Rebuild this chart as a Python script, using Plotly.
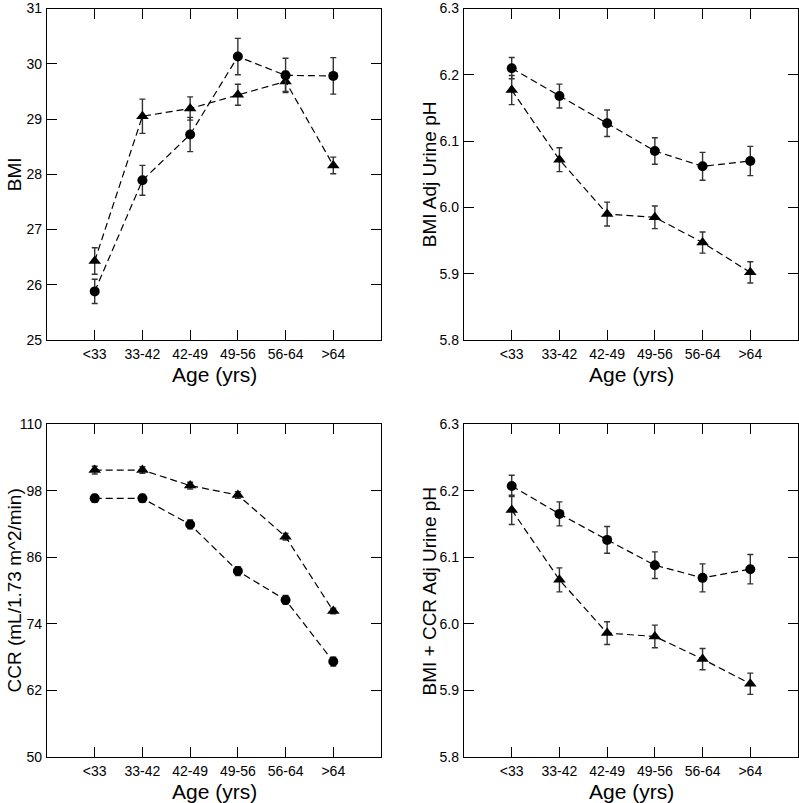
import plotly.graph_objects as go

# ---------------- data ----------------
age_groups = ["<33", "33-42", "42-49", "49-56", "56-64", ">64"]

bmi_circle = [25.88, 27.89, 28.72, 30.13, 29.79, 29.78]
bmi_circle_err = [0.22, 0.27, 0.31, 0.33, 0.31, 0.33]
bmi_triangle = [26.43, 29.05, 29.19, 29.44, 29.68, 28.16]
bmi_triangle_err = [0.24, 0.31, 0.21, 0.19, 0.18, 0.15]

ph_bmi_circle = [6.210, 6.168, 6.127, 6.085, 6.062, 6.070]
ph_bmi_circle_err = [0.016, 0.018, 0.020, 0.020, 0.021, 0.022]
ph_bmi_triangle = [6.177, 6.072, 5.990, 5.985, 5.947, 5.902]
ph_bmi_triangle_err = [0.022, 0.018, 0.018, 0.017, 0.016, 0.016]

ccr_circle = [96.6, 96.6, 91.9, 83.5, 78.3, 67.2]
ccr_circle_err = [0.7, 0.7, 0.8, 0.8, 0.8, 0.8]
ccr_triangle = [101.7, 101.7, 98.9, 97.2, 89.7, 76.3]
ccr_triangle_err = [0.7, 0.6, 0.6, 0.6, 0.6, 0.5]

ph_both_circle = [6.207, 6.165, 6.126, 6.088, 6.069, 6.082]
ph_both_circle_err = [0.016, 0.018, 0.020, 0.020, 0.021, 0.022]
ph_both_triangle = [6.171, 6.066, 5.986, 5.981, 5.947, 5.910]
ph_both_triangle_err = [0.022, 0.018, 0.017, 0.017, 0.016, 0.016]

panels = [
    dict(c=bmi_circle, ce=bmi_circle_err, t=bmi_triangle, te=bmi_triangle_err,
         yrange=[25, 31], ytick=[25, 26, 27, 28, 29, 30, 31], ytext=None,
         title="BMI"),
    dict(c=ph_bmi_circle, ce=ph_bmi_circle_err, t=ph_bmi_triangle, te=ph_bmi_triangle_err,
         yrange=[5.8, 6.3], ytick=[5.8, 5.9, 6.0, 6.1, 6.2, 6.3],
         ytext=["5.8", "5.9", "6.0", "6.1", "6.2", "6.3"],
         title="BMI Adj Urine pH"),
    dict(c=ccr_circle, ce=ccr_circle_err, t=ccr_triangle, te=ccr_triangle_err,
         yrange=[50, 110], ytick=[50, 62, 74, 86, 98, 110], ytext=None,
         title="CCR (mL/1.73 m^2/min)"),
    dict(c=ph_both_circle, ce=ph_both_circle_err, t=ph_both_triangle, te=ph_both_triangle_err,
         yrange=[5.8, 6.3], ytick=[5.8, 5.9, 6.0, 6.1, 6.2, 6.3],
         ytext=["5.8", "5.9", "6.0", "6.1", "6.2", "6.3"],
         title="BMI + CCR Adj Urine pH"),
]

# ---------------- layout geometry (pixels) ----------------
W, H = 799, 803
xdoms_px = [(47, 381), (464, 798)]
ydoms_px = [(8.5, 340), (424, 757)]  # from top
ytitle_x_px = [14, 429]
FONT = "Arial, Liberation Sans, sans-serif"

fig = go.Figure()
idx = list(range(len(age_groups)))
annotations = []

for i, p in enumerate(panels):
    col, row = i % 2, i // 2
    ax = "" if i == 0 else str(i + 1)
    xref, yref = "x" + ax, "y" + ax
    x0, x1 = xdoms_px[col]
    yt, yb = ydoms_px[row]
    xdom = [x0 / W, x1 / W]
    ydom = [1 - yb / H, 1 - yt / H]

    for vals, errs, sym, msize in [(p["t"], p["te"], "triangle-up", 11),
                                   (p["c"], p["ce"], "circle", 10)]:
        fig.add_trace(go.Scatter(
            x=idx, y=vals, xaxis=xref, yaxis=yref, mode="lines+markers",
            line=dict(color="black", width=1.2, dash="7px,4px"),
            marker=dict(symbol=sym, size=msize, color="black"),
            error_y=dict(type="data", array=errs, visible=True,
                         color="#333333", thickness=1.4, width=3),
            showlegend=False, cliponaxis=False,
        ))

    axis_common = dict(showline=True, mirror="ticks", linecolor="black", linewidth=1.3,
                       ticks="inside", ticklen=10, tickwidth=1.3, tickcolor="black",
                       showgrid=False, zeroline=False, automargin=False,
                       ticklabeloverflow="allow",
                       tickfont=dict(family=FONT, size=14, color="black"))
    fig.layout["xaxis" + ax] = dict(
        domain=xdom, range=[-1, 6], tickvals=idx, ticktext=age_groups,
        anchor=yref, ticklabelstandoff=1, **axis_common)
    ykw = dict(domain=ydom, range=p["yrange"], tickvals=p["ytick"],
               anchor=xref, ticklabelstandoff=1, **axis_common)
    if p["ytext"] is not None:
        ykw["ticktext"] = p["ytext"]
    fig.layout["yaxis" + ax] = ykw

    # axis titles
    annotations.append(dict(
        text="Age (yrs)", xref="paper", yref="paper",
        x=(x0 + x1) / 2 / W, y=1 - (yb + 34) / H,
        xanchor="center", yanchor="middle", showarrow=False,
        font=dict(family=FONT, size=21, color="black")))
    annotations.append(dict(
        text=p["title"], xref="paper", yref="paper",
        x=ytitle_x_px[col] / W, y=1 - (yt + yb) / 2 / H,
        xanchor="center", yanchor="middle", textangle=-90, showarrow=False,
        font=dict(family=FONT, size=19, color="black")))

fig.update_layout(
    template="none",
    width=W, height=H, margin=dict(l=0, r=0, t=0, b=0, pad=0, autoexpand=False),
    paper_bgcolor="white", plot_bgcolor="white",
    annotations=annotations, showlegend=False,
)

fig.write_html(
    "out.html",
    config={"displayModeBar": False, "responsive": False},
    post_script="document.body.style.margin='0';document.body.style.padding='0';"
                "document.body.style.overflow='hidden';",
)
